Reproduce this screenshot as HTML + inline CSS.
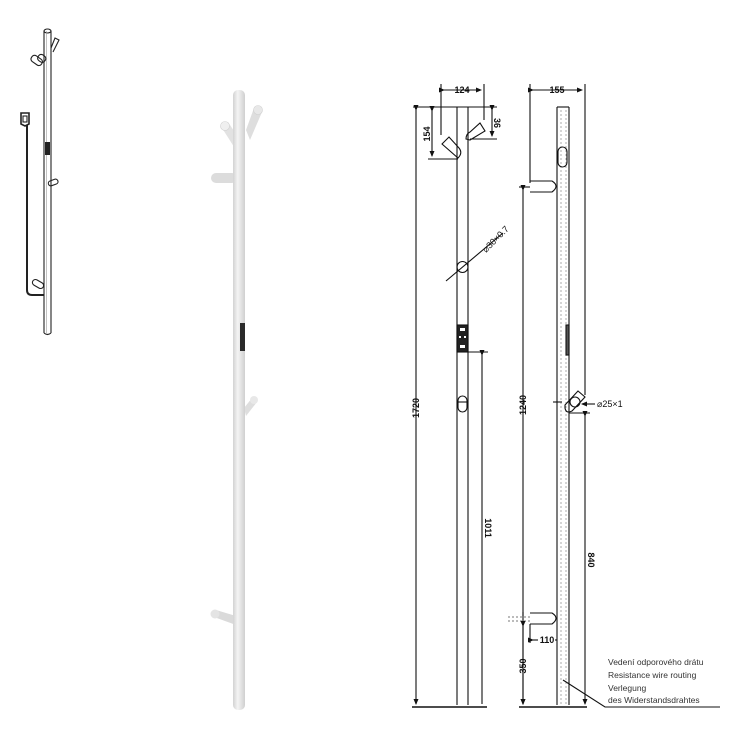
<!DOCTYPE html>
<html><head><meta charset="utf-8"><style>
html,body{margin:0;padding:0;background:#fff;}
svg{display:block;}
text{font-family:"Liberation Sans",sans-serif;}
</style></head><body>
<svg width="740" height="740" viewBox="0 0 740 740" xmlns="http://www.w3.org/2000/svg">
<defs>
<marker id="ar" markerWidth="6" markerHeight="6" refX="5" refY="3" orient="auto" markerUnits="userSpaceOnUse"><path d="M0,0.5 L6,3 L0,5.5 z" fill="#111"/></marker>
<linearGradient id="wp" x1="0" x2="1"><stop offset="0" stop-color="#d2d2d2"/><stop offset="0.4" stop-color="#f4f4f4"/><stop offset="1" stop-color="#cfcfcf"/></linearGradient>
</defs>

<!-- Left isometric line drawing -->
<g fill="none" stroke="#222" stroke-width="1.1">
  <line x1="44" y1="31" x2="44" y2="333"/>
  <line x1="51" y1="31" x2="51" y2="333"/>
  <ellipse cx="47.5" cy="31" rx="3.5" ry="2"/>
  <path d="M44,333 Q47.5,336 51,333"/>
  <line x1="46.5" y1="31" x2="46.5" y2="333" stroke="#999" stroke-width="0.6"/>
  <path d="M51,48 L55,38 L59,40 L53,52"/>
  <rect x="31" y="57" width="12" height="7" rx="3" transform="rotate(35 37 60)"/>
  <rect x="38" y="55" width="8" height="7" rx="3" transform="rotate(35 42 58)"/>
  <rect x="48" y="180" width="10" height="5" rx="2.5" transform="rotate(-20 53 182)"/>
  <path d="M27,125 L27,290 Q27,295 32,295 L44,295" stroke-width="2"/>
  <rect x="32" y="281" width="12" height="6" rx="3" transform="rotate(30 38 284)"/>
  <path d="M21,120 L21,113 L29,113 L29,124 L25,126 L21,124 z" stroke-width="1.6"/>
  <rect x="23" y="116" width="4" height="6"/>
</g>
<rect x="45" y="142" width="5" height="13" fill="#222"/>

<!-- White rendered pole -->
<g>
  <path d="M246,130 L254,108 L262,112 L250,140 z" fill="#dedede"/>
  <circle cx="258" cy="110" r="4.5" fill="#e8e8e8" stroke="#d0d0d0" stroke-width="0.6"/>
  <path d="M222,128 L236,150 L242,143 L228,122 z" fill="#e2e2e2"/>
  <circle cx="225" cy="126" r="4.5" fill="#efefef" stroke="#d0d0d0" stroke-width="0.6"/>
  <rect x="211" y="173" width="26" height="10" rx="5" fill="#dcdcdc"/>
  <path d="M244,408 L252,398 L257,402 L246,416 z" fill="#dedede"/>
  <circle cx="254" cy="400" r="4" fill="#e8e8e8"/>
  <path d="M214,617 L236,625 L236,616 L216,610 z" fill="#dadada"/>
  <circle cx="215" cy="614" r="4.5" fill="#e4e4e4"/>
  <rect x="233" y="90" width="12" height="620" rx="5" fill="url(#wp)"/>
  <rect x="240" y="323" width="5" height="28" fill="#2a2a2a"/>
</g>

<!-- Front elevation -->
<g fill="none" stroke="#111" stroke-width="1.1">
  <line x1="457" y1="107" x2="457" y2="705"/>
  <line x1="468" y1="107" x2="468" y2="705"/>
  <line x1="413" y1="107" x2="497" y2="107"/>
  <line x1="412" y1="707" x2="487" y2="707" stroke-width="1.4"/>
  <line x1="416" y1="110" x2="416" y2="704" marker-start="url(#ar)" marker-end="url(#ar)"/>
  <line x1="441" y1="84" x2="441" y2="135"/>
  <line x1="484" y1="84" x2="484" y2="120"/>
  <line x1="444" y1="90" x2="481" y2="90" marker-start="url(#ar)" marker-end="url(#ar)"/>
  <path d="M442,144 L449,137 L459,148 Q463,153 458,158 z"/>
  <path d="M466,139 Q466,134 470,132 L480,123 L485,131 L470,140 z"/>
  <line x1="428" y1="159" x2="458" y2="159"/>
  <line x1="432" y1="111" x2="432" y2="156" marker-start="url(#ar)" marker-end="url(#ar)"/>
  <line x1="470" y1="139" x2="497" y2="139"/>
  <line x1="492" y1="110" x2="492" y2="136" marker-start="url(#ar)" marker-end="url(#ar)"/>
  <circle cx="462.5" cy="267" r="5.5"/>
  <line x1="446" y1="281" x2="503" y2="233"/>
  <rect x="457" y="325" width="11" height="27" fill="#222"/>
  <rect x="458" y="396" width="9" height="16" rx="4.5"/>
  <line x1="458" y1="402" x2="467" y2="402"/>
  <line x1="468" y1="352" x2="488" y2="352"/>
  <line x1="482" y1="355" x2="482" y2="704" marker-start="url(#ar)"/>
</g>
<g fill="#fff"><rect x="460" y="328" width="5" height="3"/><rect x="460" y="345" width="5" height="3"/><rect x="459" y="336" width="2" height="2"/><rect x="464" y="336" width="2" height="2"/></g>
<g font-size="9" font-weight="bold" fill="#111">
  <text x="462" y="93" text-anchor="middle">124</text>
  <text transform="translate(430,134) rotate(-90)" text-anchor="middle">154</text>
  <text transform="translate(494,123) rotate(90)" text-anchor="middle">36</text>
  <text transform="translate(419,408) rotate(-90)" text-anchor="middle">1720</text>
  <text transform="translate(485,528) rotate(90)" text-anchor="middle">1011</text>
  <text transform="translate(486,253) rotate(-45)" font-weight="normal">⌀30×0.7</text>
</g>

<!-- Side elevation -->
<g fill="none" stroke="#111" stroke-width="1.1">
  <line x1="557" y1="107" x2="557" y2="705"/>
  <line x1="569" y1="107" x2="569" y2="705"/>
  <line x1="557" y1="107" x2="569" y2="107"/>
  <line x1="561" y1="110" x2="561" y2="705" stroke="#888" stroke-dasharray="2,2" stroke-width="0.7"/>
  <line x1="566" y1="110" x2="566" y2="705" stroke="#888" stroke-dasharray="2,2" stroke-width="0.7"/>
  <line x1="519" y1="707" x2="587" y2="707" stroke-width="1.4"/>
  <line x1="530" y1="84" x2="530" y2="183"/>
  <line x1="585" y1="84" x2="585" y2="395"/>
  <line x1="533" y1="90" x2="582" y2="90" marker-start="url(#ar)" marker-end="url(#ar)"/>
  <rect x="558" y="147" width="9" height="20" rx="4.5"/>
  <path d="M530,181 L552,181 Q560,186 552,192 L530,192"/>
  <line x1="519" y1="187" x2="530" y2="187"/>
  <line x1="523" y1="190" x2="523" y2="704" marker-start="url(#ar)" marker-end="url(#ar)"/>
  <rect x="566" y="325" width="3" height="30" fill="#555"/>
  <path d="M565,405 L578,391 L585,397 L572,411 Q566,414 565,408z"/>
  <circle cx="575" cy="402" r="5"/>
  <line x1="553" y1="402" x2="562" y2="402"/>
  <line x1="595" y1="404" x2="582" y2="404" marker-end="url(#ar)"/>
  <line x1="569" y1="413" x2="590" y2="413"/>
  <line x1="585" y1="416" x2="585" y2="704" marker-start="url(#ar)" marker-end="url(#ar)"/>
  <path d="M530,613 L552,613 Q560,618 552,624 L530,624"/>
  <line x1="508" y1="617" x2="530" y2="617" stroke-dasharray="2,2" stroke="#777"/>
  <line x1="508" y1="621" x2="530" y2="621" stroke-dasharray="2,2" stroke="#777"/>
  <line x1="523" y1="612" x2="523" y2="616"/>
  <line x1="530" y1="624" x2="530" y2="643"/>
  <line x1="523" y1="626" x2="523" y2="704" marker-start="url(#ar)" marker-end="url(#ar)"/>
  <line x1="533" y1="640" x2="538" y2="640" marker-start="url(#ar)"/>
  <line x1="555" y1="640" x2="557" y2="640"/>
  <polyline points="563,680 605,707 720,707"/>
</g>
<g font-size="9" font-weight="bold" fill="#111">
  <text x="557" y="93" text-anchor="middle">155</text>
  <text transform="translate(526,405) rotate(-90)" text-anchor="middle">1240</text>
  <text transform="translate(588,560) rotate(90)" text-anchor="middle">840</text>
  <text transform="translate(526,666) rotate(-90)" text-anchor="middle">350</text>
  <text x="547" y="643" text-anchor="middle">110</text>
  <text x="597" y="407" font-weight="normal">⌀25×1</text>
</g>
<g font-size="8.5" fill="#333">
  <text x="608" y="665">Vedení odporového drátu</text>
  <text x="608" y="678">Resistance wire routing</text>
  <text x="608" y="691">Verlegung</text>
  <text x="608" y="703">des Widerstandsdrahtes</text>
</g>
</svg>
</body></html>
